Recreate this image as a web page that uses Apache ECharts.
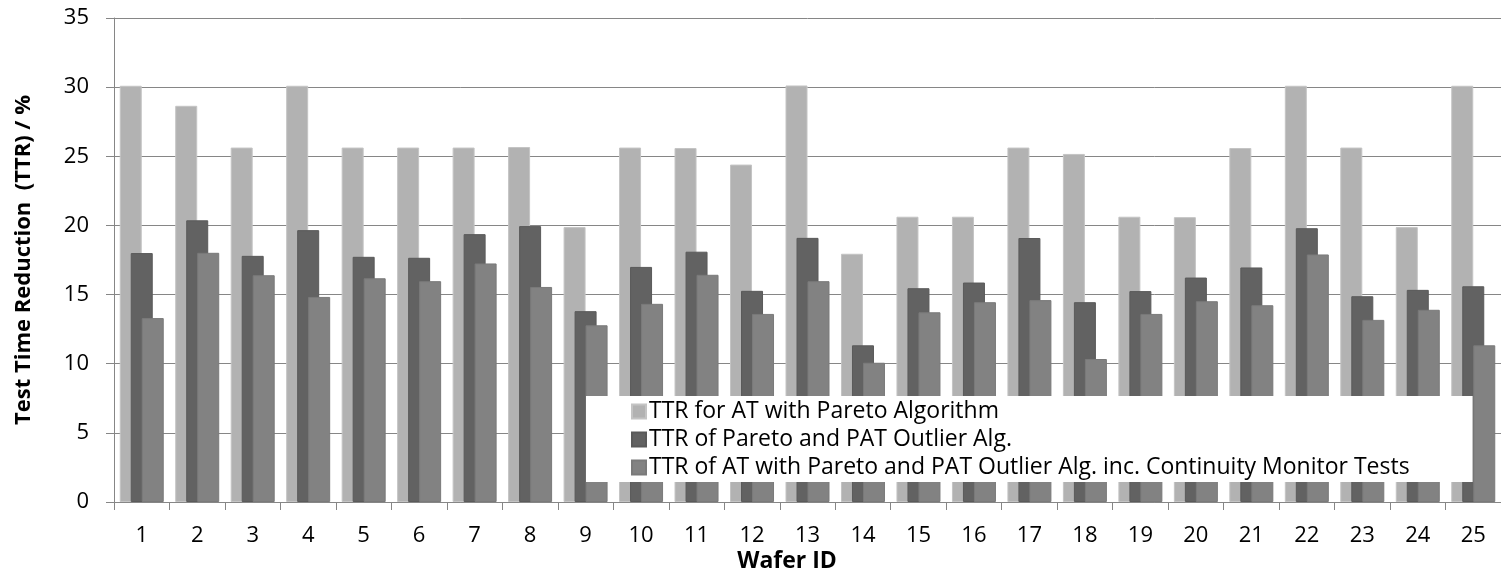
<!DOCTYPE html>
<html>
<head>
<meta charset="utf-8">
<script src="https://cdn.jsdelivr.net/npm/echarts@6/dist/echarts.min.js"></script>
<style>
  html, body { margin: 0; padding: 0; background: #fff; }
  #chart { width: 1501px; height: 576px; }
</style>
</head>
<body>
<div id="chart"></div>
<script>
// Wafer IDs along the x axis
const wafers = ['1','2','3','4','5','6','7','8','9','10','11','12','13','14','15','16','17','18','19','20','21','22','23','24','25'];

// Test time reduction (%) per wafer
const ttrPareto = [30.1, 28.65, 25.63, 30.1, 25.63, 25.63, 25.63, 25.67, 19.88, 25.63, 25.6, 24.4, 30.12, 17.95, 20.63, 20.63, 25.63, 25.17, 20.63, 20.6, 25.6, 30.1, 25.63, 19.88, 30.1];
const ttrParetoPat = [18.0, 20.37, 17.8, 19.66, 17.73, 17.66, 19.37, 19.95, 13.8, 17.0, 18.1, 15.27, 19.1, 11.33, 15.46, 15.87, 19.09, 14.45, 15.25, 16.23, 16.96, 19.8, 14.88, 15.34, 15.6];
const ttrContinuity = [13.3, 18.02, 16.4, 14.83, 16.18, 15.97, 17.25, 15.55, 12.78, 14.33, 16.43, 13.6, 15.97, 10.07, 13.72, 14.45, 14.6, 10.34, 13.6, 14.52, 14.23, 17.9, 13.17, 13.9, 11.33];

const seriesNames = [
  'TTR for AT with Pareto Algorithm',
  'TTR of Pareto and PAT Outlier Alg.',
  'TTR of AT with Pareto and PAT Outlier Alg. inc. Continuity Monitor Tests'
];

const FONT = 'Open Sans';
const AXIS_GREY = '#868686';

const chart = echarts.init(document.getElementById('chart'), null, { renderer: 'canvas' });

chart.setOption({
  animation: false,
  backgroundColor: '#ffffff',
  textStyle: { fontFamily: FONT },
  title: {
    text: 'Wafer ID',
    left: 787,
    top: 550,
    textAlign: 'center',
    padding: 0,
    textStyle: { fontFamily: FONT, fontSize: 23, fontWeight: 'bold', color: '#000' }
  },
  grid: { left: 114, right: -8, top: 18, bottom: 74, containLabel: false },
  legend: {
    orient: 'vertical',
    left: 586,
    top: 396,
    padding: [4, 63, 3, 45],
    itemGap: 5,
    itemWidth: 14,
    itemHeight: 14,
    icon: 'rect',
    backgroundColor: '#ffffff',
    selectedMode: false,
    data: seriesNames,
    textStyle: { fontFamily: FONT, fontSize: 23, color: '#000', lineHeight: 23, padding: [0, 0, 0, -2] }
  },
  xAxis: {
    type: 'category',
    data: wafers,
    axisLine: { lineStyle: { color: AXIS_GREY, width: 1 } },
    axisTick: { show: true, length: 8, lineStyle: { color: AXIS_GREY } },
    axisLabel: { fontFamily: FONT, fontSize: 22, color: '#000', margin: 23 },
    splitLine: { show: false }
  },
  yAxis: {
    type: 'value',
    min: 0,
    max: 35,
    interval: 5,
    name: 'Test Time Reduction  (TTR) / %',
    nameLocation: 'middle',
    nameGap: 79,
    nameTextStyle: { fontFamily: FONT, fontSize: 22, fontWeight: 'bold', color: '#000' },
    axisLine: { show: true, lineStyle: { color: AXIS_GREY, width: 1 } },
    axisTick: { show: true, length: 8, lineStyle: { color: AXIS_GREY } },
    axisLabel: { fontFamily: FONT, fontSize: 22, color: '#000', margin: 25 },
    splitLine: { show: true, lineStyle: { color: AXIS_GREY, width: 1 } }
  },
  series: [
    {
      name: seriesNames[0],
      type: 'bar',
      data: ttrPareto,
      barWidth: 22,
      barGap: '-50%',
      itemStyle: { color: '#b2b2b2', borderColor: '#c4c4c4', borderWidth: 1 }
    },
    {
      name: seriesNames[1],
      type: 'bar',
      data: ttrParetoPat,
      barWidth: 22,
      barGap: '-50%',
      itemStyle: { color: '#626262', borderColor: '#5a5a5a', borderWidth: 1 }
    },
    {
      name: seriesNames[2],
      type: 'bar',
      data: ttrContinuity,
      barWidth: 22,
      barGap: '-50%',
      itemStyle: { color: '#828282', borderColor: '#7a7a7a', borderWidth: 1 }
    }
  ]
});
</script>
</body>
</html>
